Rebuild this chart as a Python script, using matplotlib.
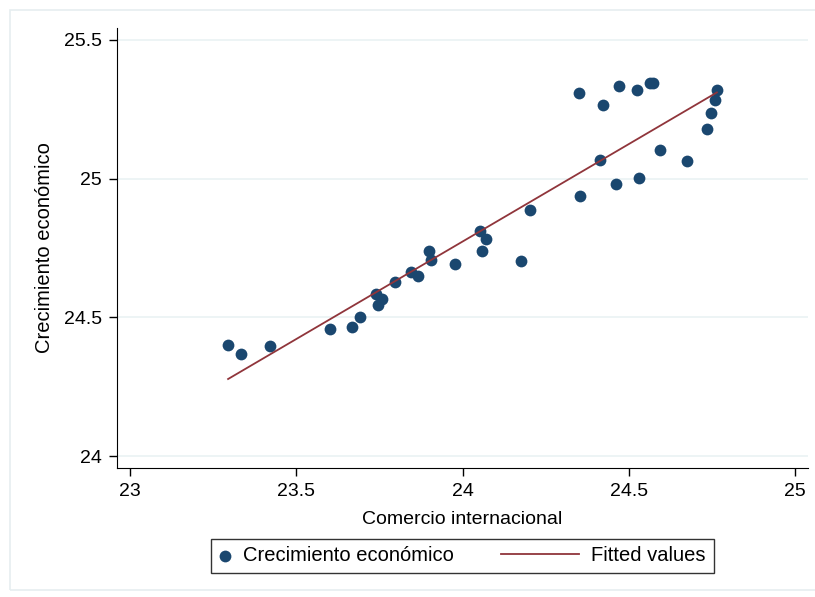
import numpy as np
import matplotlib
matplotlib.use("Agg")
import matplotlib.pyplot as plt
from matplotlib.patches import Rectangle
from matplotlib.legend_handler import HandlerLine2D

plt.rcParams['font.family'] = ['Liberation Sans', 'DejaVu Sans']

# datos
comercio = [23.295, 23.334, 23.421, 23.602, 23.668, 23.692, 23.740, 23.746,
            23.758, 23.797, 23.845, 23.866, 23.899, 23.905, 23.977, 24.053,
            24.059, 24.071, 24.176, 24.203, 24.350, 24.353, 24.414, 24.423,
            24.462, 24.471, 24.525, 24.531, 24.564, 24.573, 24.594, 24.675,
            24.735, 24.747, 24.759, 24.765]
crecimiento = [24.400, 24.368, 24.397, 24.458, 24.465, 24.501, 24.584, 24.545,
               24.566, 24.627, 24.664, 24.649, 24.739, 24.707, 24.692, 24.811,
               24.739, 24.783, 24.703, 24.887, 25.309, 24.938, 25.067, 25.266,
               24.981, 25.334, 25.320, 25.003, 25.345, 25.345, 25.104, 25.064,
               25.179, 25.237, 25.284, 25.320]
xticks = [23, 23.5, 24, 24.5, 25]
yticks = [24, 24.5, 25, 25.5]
xtick_labels = ['23', '23.5', '24', '24.5', '25']
ytick_labels = ['24', '24.5', '25', '25.5']

x = np.array(comercio)
y = np.array(crecimiento)
b, a = np.polyfit(x, y, 1)
xf = np.array([x.min(), x.max()])
yf = a + b * xf


class LongLineHandler(HandlerLine2D):
    # la línea de la leyenda se alarga hacia la izquierda, fuera de su caja
    def get_xdata(self, legend, xdescent, ydescent, width, height, fontsize):
        xd = np.array([-xdescent - 47.0, -xdescent + width - 1.5])
        return xd, xd


fig = plt.figure(figsize=(8.15, 5.97), dpi=100)
ax = fig.add_axes([0.1436, 0.2161, 0.9914 - 0.1436, 0.9531 - 0.2161])

# marco exterior tipo Stata
fig.patches.append(Rectangle((0.012, 0.012), 0.99, 0.972, transform=fig.transFigure,
                             fill=False, edgecolor='#e6eef0', linewidth=1.2))

ax.grid(axis='y', color='#eaf2f3', linewidth=1.2)
ax.set_axisbelow(True)
sc = ax.scatter(x, y, s=72, color='#1a476f', zorder=3, linewidths=0,
                label='Crecimiento económico')
ln, = ax.plot(xf, yf, color='#90353b', linewidth=1.3, zorder=4, label='Fitted values')

ax.set_xlim(22.961, 25.039)
ax.set_ylim(23.957, 25.543)
ax.set_xticks(xticks)
ax.set_xticklabels(xtick_labels)
ax.set_yticks(yticks)
ax.set_yticklabels(ytick_labels)
ax.tick_params(labelsize=14, length=6, width=1, direction='out', pad=5)
ax.spines['top'].set_visible(False)
ax.spines['right'].set_visible(False)

ax.set_xlabel('Comercio internacional', fontsize=14, labelpad=8)
ax.set_ylabel('Crecimiento económico', fontsize=14.5, labelpad=7)

leg = fig.legend(handles=[sc, ln], loc='center', bbox_to_anchor=(0.567, 0.0687),
                 ncol=2, fontsize=14.5, frameon=True, fancybox=False,
                 edgecolor='black', columnspacing=5.6, handlelength=0.7,
                 handletextpad=0.53, borderpad=0.38, scatterpoints=1,
                 handler_map={ln: LongLineHandler()})
leg.get_frame().set_linewidth(1.0)

fig.savefig('out.png', dpi=100, facecolor='white')
